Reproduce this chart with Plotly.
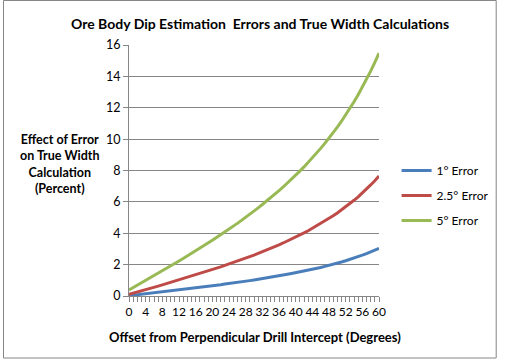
import plotly.graph_objects as go

degrees = list(range(0, 61))

err_1 = [0.02, 0.05, 0.08, 0.11, 0.14, 0.17, 0.20, 0.23, 0.26, 0.29,
         0.32, 0.35, 0.39, 0.42, 0.45, 0.48, 0.52, 0.55, 0.58, 0.62,
         0.65, 0.69, 0.72, 0.76, 0.79, 0.83, 0.87, 0.90, 0.94, 0.98,
         1.02, 1.06, 1.11, 1.15, 1.19, 1.24, 1.28, 1.33, 1.38, 1.43,
         1.48, 1.53, 1.59, 1.64, 1.70, 1.76, 1.82, 1.89, 1.95, 2.02,
         2.10, 2.17, 2.25, 2.33, 2.42, 2.51, 2.60, 2.70, 2.81, 2.92,
         3.04]

err_2_5 = [0.10, 0.17, 0.25, 0.32, 0.40, 0.48, 0.55, 0.63, 0.71, 0.79,
           0.86, 0.94, 1.02, 1.10, 1.18, 1.26, 1.35, 1.43, 1.51, 1.60,
           1.68, 1.77, 1.86, 1.95, 2.04, 2.13, 2.22, 2.32, 2.41, 2.51,
           2.61, 2.72, 2.82, 2.93, 3.04, 3.15, 3.26, 3.38, 3.50, 3.63,
           3.76, 3.89, 4.02, 4.16, 4.31, 4.46, 4.61, 4.77, 4.94, 5.11,
           5.29, 5.48, 5.68, 5.88, 6.10, 6.32, 6.56, 6.81, 7.08, 7.35,
           7.65]

err_5 = [0.38, 0.53, 0.68, 0.84, 0.99, 1.14, 1.30, 1.45, 1.61, 1.76,
         1.92, 2.07, 2.23, 2.39, 2.55, 2.72, 2.88, 3.05, 3.21, 3.38,
         3.55, 3.73, 3.90, 4.08, 4.26, 4.44, 4.63, 4.82, 5.01, 5.21,
         5.41, 5.62, 5.83, 6.04, 6.26, 6.48, 6.71, 6.95, 7.19, 7.44,
         7.69, 7.96, 8.23, 8.51, 8.80, 9.10, 9.41, 9.73, 10.06, 10.41,
         10.77, 11.14, 11.54, 11.95, 12.38, 12.83, 13.30, 13.80, 14.33, 14.89,
         15.48]

series_names = ["1° Error", "2.5° Error", "5° Error"]
series_values = [err_1, err_2_5, err_5]
series_colors = ["#4A7EBB", "#BE4B48", "#98B954"]

x_ticks = list(range(0, 61, 4))
y_ticks = list(range(0, 17, 2))

FONT = "Lato"

fig = go.Figure()
for i, (name, vals, col) in enumerate(zip(series_names, series_values, series_colors)):
    fig.add_trace(go.Scatter(
        x=degrees, y=vals, mode="lines", name=name,
        line=dict(color=col, width=3), legendgroup=f"g{i}",
    ))

W, H = 506, 359
L, R, T, B = 129, 385, 45, 296
pw, ph = R - L, B - T

def px(x):
    return (x - L) / pw

def py(y):
    return (B - y) / ph

fig.update_layout(
    width=W, height=H,
    margin=dict(l=L, r=W - R, t=T, b=H - B, pad=0),
    paper_bgcolor="white", plot_bgcolor="white",
    font=dict(family=FONT, size=12, color="black"),
    showlegend=True,
    legend=dict(
        x=px(403), y=py(156), xanchor="left", yanchor="top",
        font=dict(family=FONT, size=12, color="black"),
        tracegroupgap=6, bgcolor="rgba(0,0,0,0)",
    ),
    xaxis=dict(
        range=[0, 60], tickmode="array", tickvals=x_ticks,
        ticktext=[str(v) for v in x_ticks], tickangle=0, automargin=False,
        showgrid=False, zeroline=False,
        showline=True, linecolor="#868686", linewidth=1,
        ticks="outside", ticklen=5, tickcolor="#868686",
        minor=dict(dtick=1, ticks="outside", ticklen=5, tickcolor="#868686", showgrid=False),
        tickfont=dict(family=FONT, size=12),
    ),
    yaxis=dict(
        range=[0, 16], tickmode="array", tickvals=y_ticks, automargin=False,
        showgrid=True, gridcolor="#868686", gridwidth=1,
        zeroline=False, showline=True, linecolor="#868686", linewidth=1,
        ticks="outside", ticklen=5, tickcolor="#868686",
        tickfont=dict(family=FONT, size=12.5),
    ),
    annotations=[
        dict(text="<b>Ore Body Dip Estimation  Errors and True Width Calculations</b>",
             x=px(263.5), y=py(23), xref="paper", yref="paper",
             showarrow=False, xanchor="center", yanchor="middle",
             font=dict(family=FONT, size=14)),
        dict(text="<b>Effect of Error<br>on True Width<br>Calculation<br>(Percent)</b>",
             x=px(58), y=py(163.5), xref="paper", yref="paper",
             showarrow=False, xanchor="center", yanchor="middle", align="center",
             font=dict(family=FONT, size=12.5)),
        dict(text="<b>Offset from Perpendicular Drill Intercept (Degrees)</b>",
             x=px(258), y=py(337), xref="paper", yref="paper",
             showarrow=False, xanchor="center", yanchor="middle",
             font=dict(family=FONT, size=13)),
    ],
    shapes=[
        dict(type="rect", xref="paper", yref="paper",
             x0=px(0.5), x1=px(505), y0=py(358), y1=py(0.5),
             line=dict(color="#868686", width=1), fillcolor="rgba(0,0,0,0)", layer="below"),
    ],
)

fig.write_html(
    "out.html",
    config={"displayModeBar": False},
    post_script="document.body.style.margin='0';document.body.style.overflow='hidden';",
)
